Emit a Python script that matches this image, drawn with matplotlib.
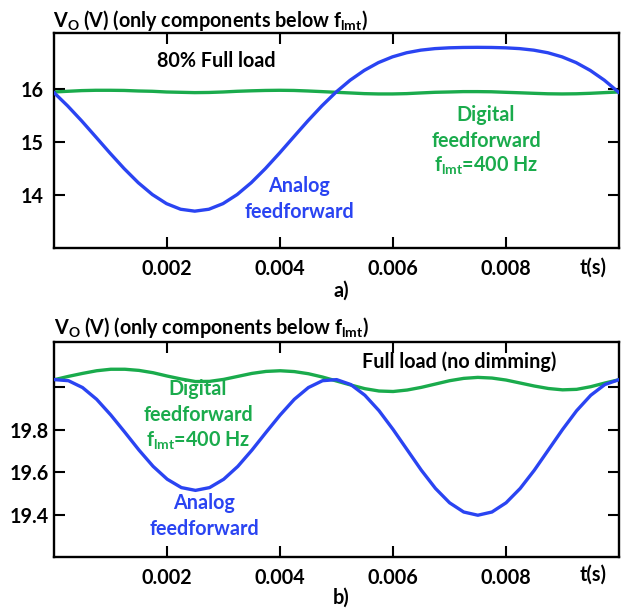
import matplotlib
matplotlib.use("Agg")
import matplotlib.pyplot as plt

plt.rcParams['font.family'] = ['Lato', 'DejaVu Sans']
plt.rcParams['font.weight'] = 'bold'
plt.rcParams['mathtext.fontset'] = 'custom'
plt.rcParams['mathtext.rm'] = 'Lato:bold'
plt.rcParams['mathtext.it'] = 'Lato:bold'
plt.rcParams['mathtext.bf'] = 'Lato:bold'

# ---------------- data ----------------
t = [i * 0.00025 for i in range(41)]

a_analog = [15.94, 15.681, 15.396, 15.094, 14.790, 14.498, 14.232, 14.008, 13.837, 13.731,
            13.695, 13.731, 13.837, 14.008, 14.232, 14.498, 14.790, 15.094, 15.396, 15.681,
            15.94, 16.165, 16.350, 16.497, 16.606, 16.683, 16.732, 16.761, 16.776, 16.783,
            16.785, 16.783, 16.776, 16.761, 16.732, 16.683, 16.606, 16.497, 16.350, 16.165,
            15.94]
a_digital = [15.943, 15.956, 15.969, 15.975, 15.975, 15.972, 15.962, 15.956, 15.943, 15.937,
             15.931, 15.934, 15.943, 15.956, 15.965, 15.972, 15.975, 15.972, 15.962, 15.950,
             15.937, 15.925, 15.912, 15.906, 15.906, 15.912, 15.925, 15.937, 15.943, 15.950,
             15.950, 15.947, 15.937, 15.928, 15.918, 15.909, 15.906, 15.909, 15.918, 15.931,
             15.943]

b_analog = [20.033, 20.028, 19.996, 19.941, 19.868, 19.787, 19.704, 19.628, 19.568, 19.529,
            19.516, 19.529, 19.568, 19.628, 19.704, 19.787, 19.868, 19.941, 19.996, 20.028,
            20.033, 20.010, 19.960, 19.888, 19.800, 19.705, 19.610, 19.525, 19.458, 19.415,
            19.400, 19.415, 19.458, 19.525, 19.610, 19.705, 19.800, 19.888, 19.960, 20.010,
            20.033]
b_digital = [20.0326, 20.0481, 20.0620, 20.0744, 20.0814, 20.0814, 20.0760, 20.0651, 20.0496, 20.0357,
             20.0240, 20.0248, 20.0341, 20.0481, 20.0620, 20.0713, 20.0744, 20.0705, 20.0605, 20.0450,
             20.0264, 20.0078, 19.9907, 19.9798, 19.9775, 19.9845, 19.9969, 20.0124, 20.0279, 20.0388,
             20.0434, 20.0403, 20.0310, 20.0171, 20.0031, 19.9915, 19.9853, 19.9876, 20.0000, 20.0171,
             20.0326]

xticks = [0.002, 0.004, 0.006, 0.008]
xticklabels = ['0.002', '0.004', '0.006', '0.008']
a_yticks = [14, 15, 16]
a_yticklabels = ['14', '15', '16']
b_yticks = [19.4, 19.6, 19.8, 20.0]
b_yticklabels = ['19.4', '19.6', '19.8', '']

BLUE = '#2a44f2'
GREEN = '#1aab4c'
FS = 14.2

W, H = 625, 608
fig = plt.figure(figsize=(W / 100, H / 100), dpi=100)


def px_axes(l, t_, r, b):
    return fig.add_axes([l / W, 1 - b / H, (r - l) / W, (b - t_) / H])


def ptext(x, y, s, **kw):
    kw.setdefault('fontsize', FS)
    kw.setdefault('fontweight', 'bold')
    fig.text(x / W, 1 - y / H, s, **kw)


def style(ax, yt, ytl, ylim, ypad):
    ax.set_xlim(0, 0.01)
    ax.set_ylim(*ylim)
    ax.set_xticks(xticks)
    ax.set_xticklabels(xticklabels)
    ax.set_yticks(yt)
    ax.set_yticklabels(ytl)
    ax.tick_params(direction='in', length=8, width=1.5, top=True, right=True,
                   labelsize=FS, colors='black')
    ax.tick_params(axis='x', pad=8)
    ax.tick_params(axis='y', pad=ypad)
    for lab in ax.get_xticklabels() + ax.get_yticklabels():
        lab.set_fontweight('bold')
    for sp in ax.spines.values():
        sp.set_linewidth(1.7)


# ---- top panel ----
ax1 = px_axes(53.5, 33.3, 618.5, 248)
ax1.plot(t, a_digital, color=GREEN, lw=2.4, zorder=2)
ax1.plot(t, a_analog, color=BLUE, lw=2.4, zorder=3)
style(ax1, a_yticks, a_yticklabels, (13.0, 17.05), 7)

ptext(53, 27, r'V$_\mathrm{O}$ (V) (only components below f$_\mathrm{lmt}$)', ha='left', va='baseline')
ptext(216, 67, '80% Full load', ha='center', va='baseline')
ptext(299.5, 192, 'Analog', ha='center', va='baseline', color=BLUE)
ptext(299.5, 218, 'feedforward', ha='center', va='baseline', color=BLUE)
ptext(486, 121, 'Digital', ha='center', va='baseline', color=GREEN)
ptext(486, 147, 'feedforward', ha='center', va='baseline', color=GREEN)
ptext(486, 172, r'f$_\mathrm{lmt}$=400 Hz', ha='center', va='baseline', color=GREEN)
ptext(593, 274, 't(s)', ha='center', va='baseline')
ptext(341, 297, 'a)', ha='center', va='baseline')

# ---- bottom panel ----
ax2 = px_axes(54.3, 341.7, 619, 557)
ax2.plot(t, b_digital, color=GREEN, lw=2.4, zorder=2)
ax2.plot(t, b_analog, color=BLUE, lw=2.4, zorder=3)
style(ax2, b_yticks, b_yticklabels, (19.205, 20.21), 4)

ptext(54, 334, r'V$_\mathrm{O}$ (V) (only components below f$_\mathrm{lmt}$)', ha='left', va='baseline')
ptext(459, 368, 'Full load (no dimming)', ha='center', va='baseline')
ptext(198, 395, 'Digital', ha='center', va='baseline', color=GREEN)
ptext(198, 421, 'feedforward', ha='center', va='baseline', color=GREEN)
ptext(198, 447, r'f$_\mathrm{lmt}$=400 Hz', ha='center', va='baseline', color=GREEN)
ptext(204.5, 509, 'Analog', ha='center', va='baseline', color=BLUE)
ptext(204.5, 535, 'feedforward', ha='center', va='baseline', color=BLUE)
ptext(593, 581, 't(s)', ha='center', va='baseline')
ptext(341, 604, 'b)', ha='center', va='baseline')

fig.savefig('out.png', dpi=100)
